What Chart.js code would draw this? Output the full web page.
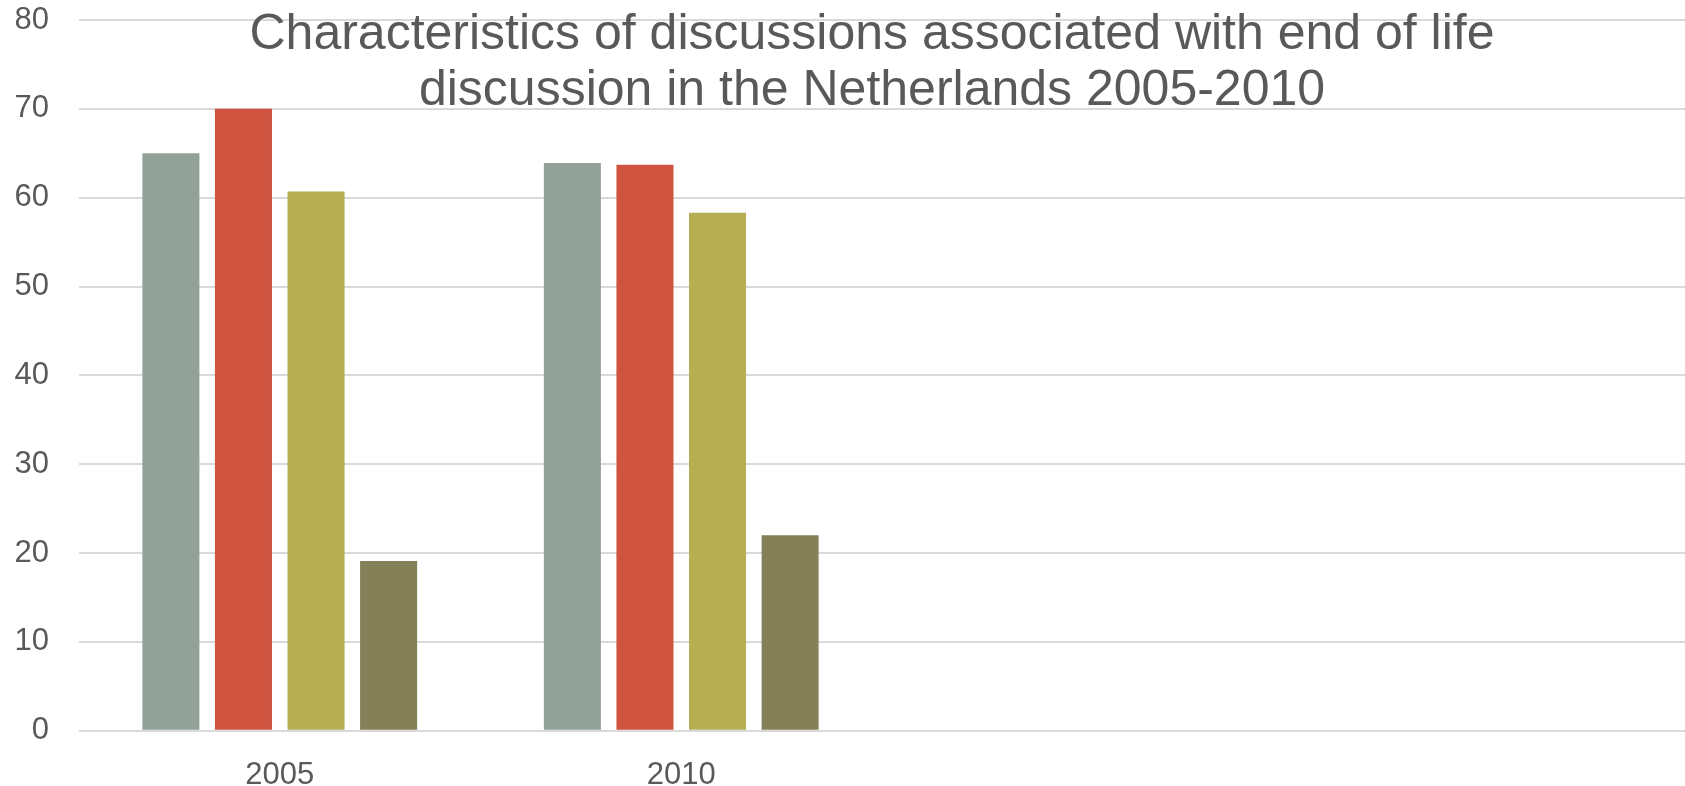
<!DOCTYPE html>
<html>
<head>
<meta charset="utf-8">
<script src="https://cdn.jsdelivr.net/npm/chart.js@4/dist/chart.umd.min.js"></script>
<style>
  html, body { margin: 0; padding: 0; background: #fff; overflow: hidden; }
  #wrap { position: relative; width: 1685px; height: 786px; }
  #title {
    position: absolute; left: 872px; top: 4px; transform: translateX(-50%);
    font-family: "Liberation Sans", Arial, sans-serif; font-size: 50px; line-height: 56px;
    color: #595959; text-align: center; white-space: nowrap; pointer-events: none;
  }
</style>
</head>
<body>
<div id="wrap">
  <canvas id="chart" width="1685" height="786"></canvas>
  <div id="title">Characteristics of discussions associated with end of life<br>discussion in the Netherlands 2005-2010</div>
</div>
<script>
// categories (two empty slots on the right, like the original)
var years = ['2005', '2010', '', ''];
// four series, no legend in the original
var series1 = [65.0, 63.9, null, null];
var series2 = [70.0, 63.7, null, null];
var series3 = [60.7, 58.3, null, null];
var series4 = [19.1, 22.0, null, null];
var yTicks = [0, 10, 20, 30, 40, 50, 60, 70, 80];

var colors = ['#93a299', '#cf543f', '#b5ae53', '#848058'];
var fontFamily = '"Liberation Sans", Arial, sans-serif';

var mkSet = function (data, i) {
  return {
    data: data,
    backgroundColor: colors[i],
    borderWidth: 0,
    categoryPercentage: 0.723,
    barPercentage: 0.786
  };
};

var ctx = document.getElementById('chart').getContext('2d');
var chart = new Chart(ctx, {
  type: 'bar',
  data: {
    labels: years,
    datasets: [mkSet(series1, 0), mkSet(series2, 1), mkSet(series3, 2), mkSet(series4, 3)]
  },
  options: {
    responsive: false,
    animation: false,
    layout: { padding: { top: 20, right: 0, bottom: 0, left: 0 } },
    plugins: {
      legend: { display: false },
      title: { display: false },
      tooltip: { enabled: false }
    },
    scales: {
      x: {
        grid: { display: false },
        border: { display: false },
        ticks: { color: '#595959', font: { family: fontFamily, size: 31 }, padding: 18 },
        afterFit: function (s) { s.height = 55.3; }
      },
      y: {
        min: 0,
        max: 80,
        afterBuildTicks: function (s) { s.ticks = yTicks.map(function (v) { return { value: v }; }); },
        grid: { color: '#d9d9d9', lineWidth: 2, drawTicks: false },
        border: { display: false },
        ticks: { color: '#595959', font: { family: fontFamily, size: 31 }, padding: 30 },
        //不要让刻度留白把绘图区往下推
        afterFit: function (s) { s.width = 79; s.paddingTop = 0; s.paddingBottom = 0; }
      }
    }
  }
});
</script>
</body>
</html>
